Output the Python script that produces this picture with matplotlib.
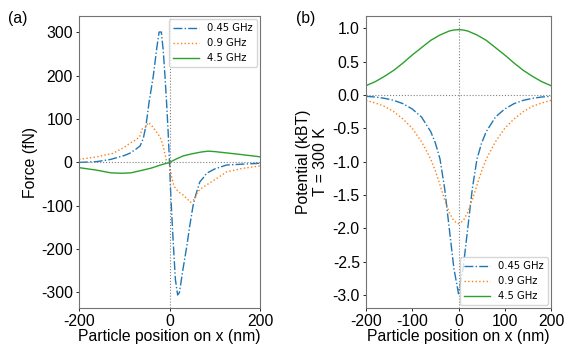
import matplotlib.pyplot as plt

plt.rcParams['font.family'] = ['Liberation Sans', 'DejaVu Sans']
plt.rcParams['axes.unicode_minus'] = False

labels = ['0.45 GHz', '0.9 GHz', '4.5 GHz']
styles = ['-.', ':', '-']
colors = ['tab:blue', 'tab:orange', 'tab:green']

# (a) force curves
fx_045 = [-200, -160, -130, -100, -88, -75, -65, -58, -52, -45, -36, -28, -23, -18, -14, -10, -6, -3, 0,
          3, 8, 13, 18, 22, 30, 38, 45, 52, 58, 67, 75, 82, 100, 126, 160, 200]
f_045 = [0, 2, 7, 16, 21, 30, 38, 55, 85, 140, 198, 265, 301, 301, 260, 200, 130, 70, 0,
         -80, -180, -270, -306, -300, -245, -195, -145, -100, -75, -45, -35, -25, -15, -6, -4, -2]

fx_09 = [-200, -160, -125, -100, -88, -75, -66, -60, -52, -47, -40, -30, -21, -14, -7, 0,
         5, 10, 20, 30, 40, 46, 52, 57, 62, 70, 85, 100, 126, 160, 200]
f_09 = [7, 13, 21, 35, 44, 52, 59, 78, 82, 92, 86, 72, 59, 38, 5, -5,
        -35, -55, -68, -75, -85, -92, -88, -82, -68, -60, -50, -40, -22, -14, -8]

fx_45 = [-200, -160, -130, -105, -85, -60, -40, -20, 0, 15, 30, 50, 70, 85, 100, 126, 160, 200]
f_45 = [-12, -18, -24, -25, -24, -18, -13, -6, 0, 8, 15, 20, 24, 26, 25, 22, 18, 13]

# (b) potential curves
px = [-200, -180, -160, -140, -120, -100, -80, -60, -50, -40, -30, -20, -10, 0,
      10, 20, 30, 40, 50, 60, 80, 100, 120, 140, 160, 180, 200]
u_045 = [-0.02, -0.03, -0.05, -0.08, -0.13, -0.21, -0.33, -0.55, -0.72, -0.96, -1.4, -2.0, -2.6, -2.98,
         -2.6, -2.0, -1.4, -0.96, -0.72, -0.55, -0.33, -0.21, -0.13, -0.08, -0.05, -0.03, -0.02]
u_09 = [-0.08, -0.12, -0.17, -0.25, -0.36, -0.5, -0.7, -0.96, -1.14, -1.35, -1.57, -1.76, -1.89, -1.93,
        -1.89, -1.76, -1.57, -1.35, -1.14, -0.96, -0.7, -0.5, -0.36, -0.25, -0.17, -0.12, -0.08]
u_45 = [0.14, 0.2, 0.28, 0.37, 0.48, 0.6, 0.71, 0.82, 0.86, 0.9, 0.93, 0.96, 0.975, 0.98,
        0.975, 0.96, 0.93, 0.9, 0.86, 0.82, 0.71, 0.6, 0.48, 0.37, 0.28, 0.2, 0.14]

fig = plt.figure(figsize=(5.82, 3.64), dpi=100)
ax1 = fig.add_axes([79 / 582, 56 / 364, 181 / 582, 292 / 364])
ax2 = fig.add_axes([366 / 582, 56 / 364, 185 / 582, 292 / 364])

force = [(fx_045, f_045), (fx_09, f_09), (fx_45, f_45)]
for (x, y), lab, ls, c in zip(force, labels, styles, colors):
    ax1.plot(x, y, ls=ls, color=c, lw=1.0, label=lab)

for y, lab, ls, c in zip([u_045, u_09, u_45], labels, styles, colors):
    ax2.plot(px, y, ls=ls, color=c, lw=1.0, label=lab)

for ax in (ax1, ax2):
    ax.axhline(0, color='gray', lw=0.8, ls=':')
    ax.axvline(0, color='gray', lw=0.8, ls=':')
    ax.set_xlim(-200, 200)
    ax.set_xlabel('Particle position on x (nm)', fontsize=11.3, labelpad=0)
    ax.tick_params(labelsize=11.3, length=2.5, width=0.6, pad=2)
    for s in ax.spines.values():
        s.set_color('0.45')

ax1.set_xticks([-200, 0, 200])
ax1.set_yticks([-300, -200, -100, 0, 100, 200, 300])
ax1.set_ylim(-336, 338)
ax1.set_ylabel('Force (fN)', fontsize=11.3, labelpad=2)

ax2.set_xticks([-200, -100, 0, 100, 200])
ax2.set_yticks([-3.0, -2.5, -2.0, -1.5, -1.0, -0.5, 0.0, 0.5, 1.0])
ax2.set_yticklabels(['-3.0', '-2.5', '-2.0', '-1.5', '-1.0', '-0.5', '0.0', '0.5', '1.0'])
ax2.set_ylim(-3.195, 1.185)
ax2.set_ylabel('Potential (kBT)\nT = 300 K', fontsize=11.3, labelpad=3, linespacing=1.2)

leg_font = {'family': 'DejaVu Sans', 'size': 7.2}
ax1.legend(loc='upper right', prop=leg_font, handlelength=2.6, borderaxespad=0.3)
ax2.legend(loc='lower right', prop=leg_font, handlelength=2.6, borderaxespad=0.3)

fig.text(8 / 582, 1 - 18 / 364, '(a)', fontsize=11.3, va='center')
fig.text(296 / 582, 1 - 18 / 364, '(b)', fontsize=11.3, va='center')

fig.savefig('out.png', dpi=100)
